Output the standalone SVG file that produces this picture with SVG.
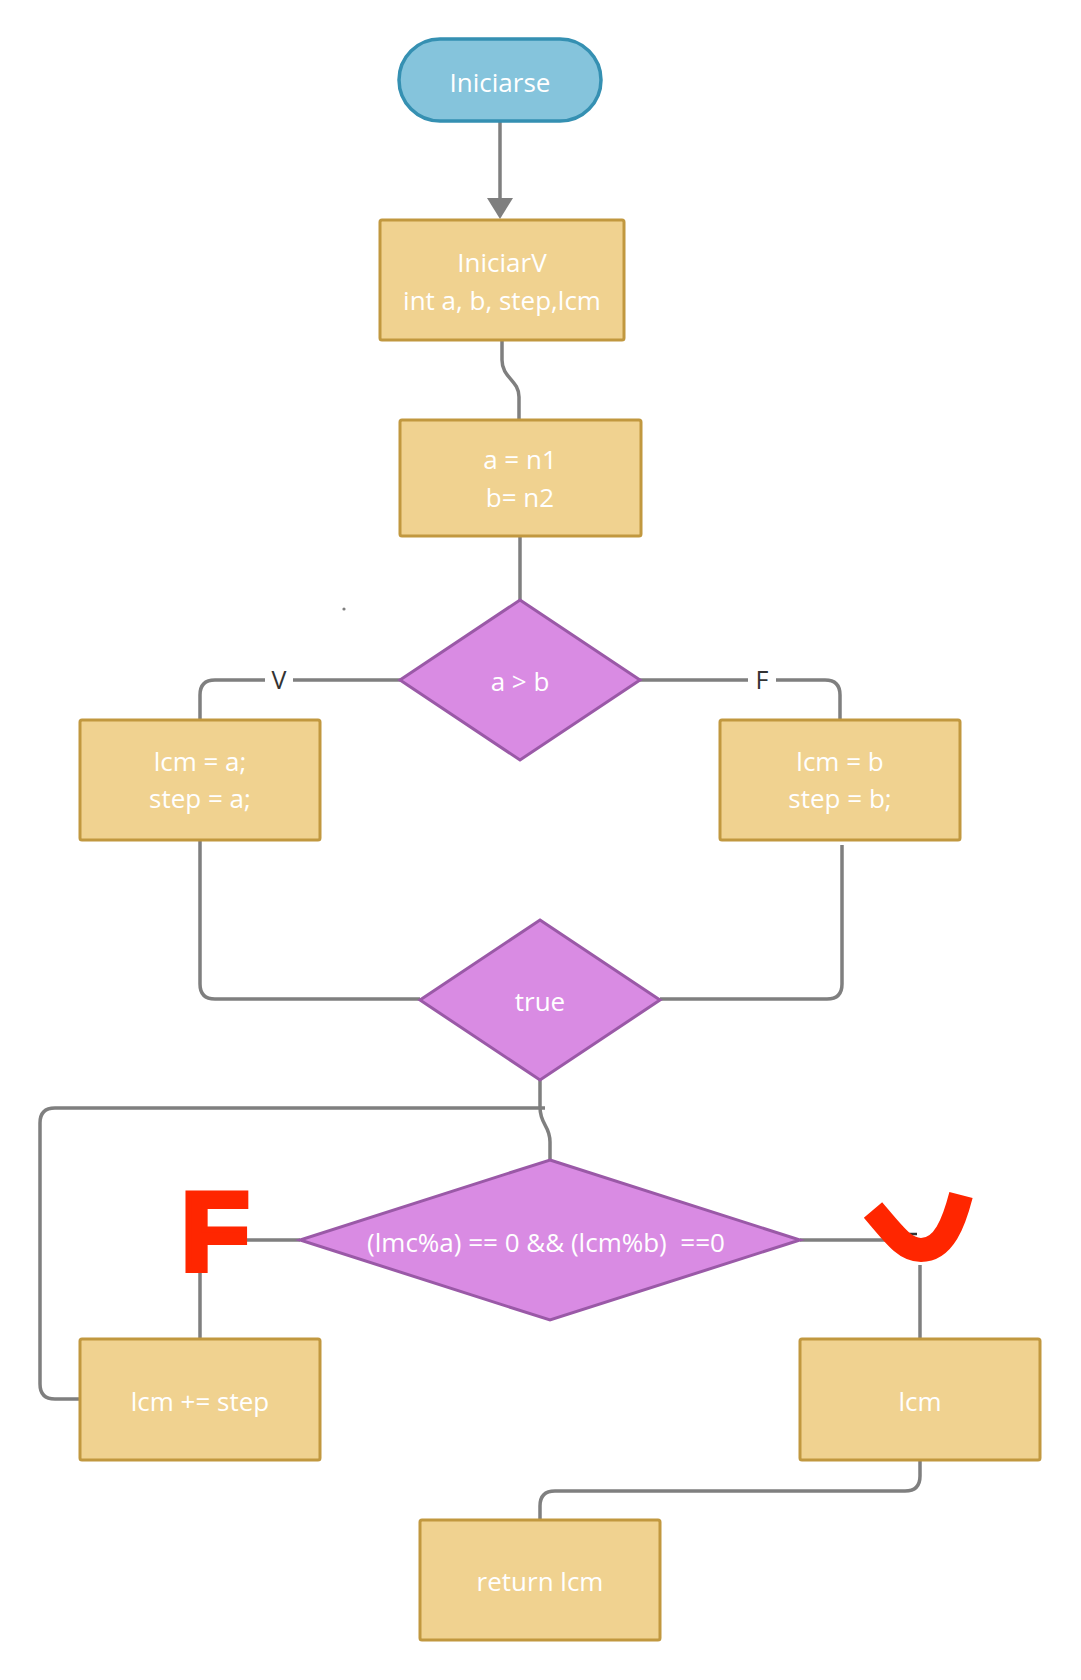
<svg xmlns="http://www.w3.org/2000/svg" width="1081" height="1680" viewBox="0 0 1081 1680">
<style>
.box{fill:#f0d290;stroke:#c1983f;stroke-width:3}
.dia{fill:#d98be3;stroke:#9a59a7;stroke-width:3}
.term{fill:#85c4dc;stroke:#3590b2;stroke-width:3.5}
.t{font-family:"Open Sans","Liberation Sans",sans-serif;font-size:26px;fill:#ffffff;text-anchor:middle}
.c{fill:none;stroke:#7f7f7f;stroke-width:3.5}
.lbl{font-family:"Open Sans","Liberation Sans",sans-serif;font-size:25px;fill:#333333;text-anchor:middle}
</style>
<rect width="1081" height="1680" fill="#ffffff"/>
<g id="connectors">
<path class="c" d="M500,121 L500,200"/>
<path d="M487,198 L513,198 L500,219 Z" fill="#7f7f7f"/>
<path class="c" d="M502,341 L502,360 C502,378 519,380 519,397 L519,420"/>
<path class="c" d="M520,536 L520,600"/>
<path class="c" d="M400,680 L215,680 Q200,680 200,695 L200,720"/>
<path class="c" d="M640,680 L825,680 Q840,680 840,695 L840,720"/>
<path class="c" d="M200,840 L200,984 Q200,999 215,999 L420,999"/>
<path class="c" d="M842,845 L842,984 Q842,999 827,999 L660,999"/>
<path class="c" d="M540,1080 L540,1107 C540,1125 550,1125 550,1142 L550,1160"/>
<path class="c" d="M545,1108 L55,1108 Q40,1108 40,1123 L40,1384 Q40,1399 55,1399 L80,1399"/>
<path class="c" d="M300,1240 L200,1240 L200,1339"/>
<path class="c" d="M800,1240 L900,1240"/>
<path d="M882,1234 L917,1234" stroke="#333333" stroke-width="2.5"/>
<path class="c" d="M920,1265 L920,1339"/>
<path class="c" d="M920,1460 L920,1476 Q920,1491 905,1491 L555,1491 Q540,1491 540,1506 L540,1520"/>
<rect x="265" y="664" width="28" height="32" fill="#ffffff"/>
<text class="lbl" x="279" y="689">V</text>
<rect x="748" y="664" width="28" height="32" fill="#ffffff"/>
<text class="lbl" x="762" y="689">F</text>
<text x="181" y="1270" font-family="Liberation Sans,Arial,sans-serif" font-weight="bold" font-size="112" fill="#ff2600" stroke="#ff2600" stroke-width="6" stroke-linejoin="miter">F</text>
<path d="M873,1210 C895,1236 905,1250 921,1250 C944,1250 954,1222 961,1195" fill="none" stroke="#ff2600" stroke-width="24"/>
<circle cx="344" cy="609" r="1.6" fill="#7f7f7f"/>
</g>
<g id="n-start"><rect class="term" x="399" y="39" width="202" height="82" rx="41"/><text class="t" x="500" y="92">Iniciarse</text></g>
<g id="n-iniciarv"><rect class="box" x="380" y="220" width="244" height="120" rx="2"/><text class="t" x="502" y="272">IniciarV</text><text class="t" x="502" y="310">int a, b, step,lcm</text></g>
<g id="n-assign"><rect class="box" x="400" y="420" width="241" height="116" rx="2"/><text class="t" x="520" y="469">a = n1</text><text class="t" x="520" y="507">b= n2</text></g>
<g id="n-agtb"><path class="dia" d="M520,600 L640,680 L520,760 L400,680 Z"/><text class="t" x="520" y="691">a &gt; b</text></g>
<g id="n-lcma"><rect class="box" x="80" y="720" width="240" height="120" rx="2"/><text class="t" x="200" y="771">lcm = a;</text><text class="t" x="200" y="808">step = a;</text></g>
<g id="n-lcmb"><rect class="box" x="720" y="720" width="240" height="120" rx="2"/><text class="t" x="840" y="771">lcm = b</text><text class="t" x="840" y="808">step = b;</text></g>
<g id="n-true"><path class="dia" d="M540,920 L660,1000 L540,1080 L420,1000 Z"/><text class="t" x="540" y="1011">true</text></g>
<g id="n-cond"><path class="dia" d="M550,1160 L800,1240 L550,1320 L300,1240 Z"/><text class="t" x="546" y="1252" xml:space="preserve">(lmc%a) == 0 &amp;&amp; (lcm%b)  ==0</text></g>
<g id="n-step"><rect class="box" x="80" y="1339" width="240" height="121" rx="2"/><text class="t" x="200" y="1411">lcm += step</text></g>
<g id="n-lcm"><rect class="box" x="800" y="1339" width="240" height="121" rx="2"/><text class="t" x="920" y="1411">lcm</text></g>
<g id="n-return"><rect class="box" x="420" y="1520" width="240" height="120" rx="2"/><text class="t" x="540" y="1591">return lcm</text></g>
</svg>
